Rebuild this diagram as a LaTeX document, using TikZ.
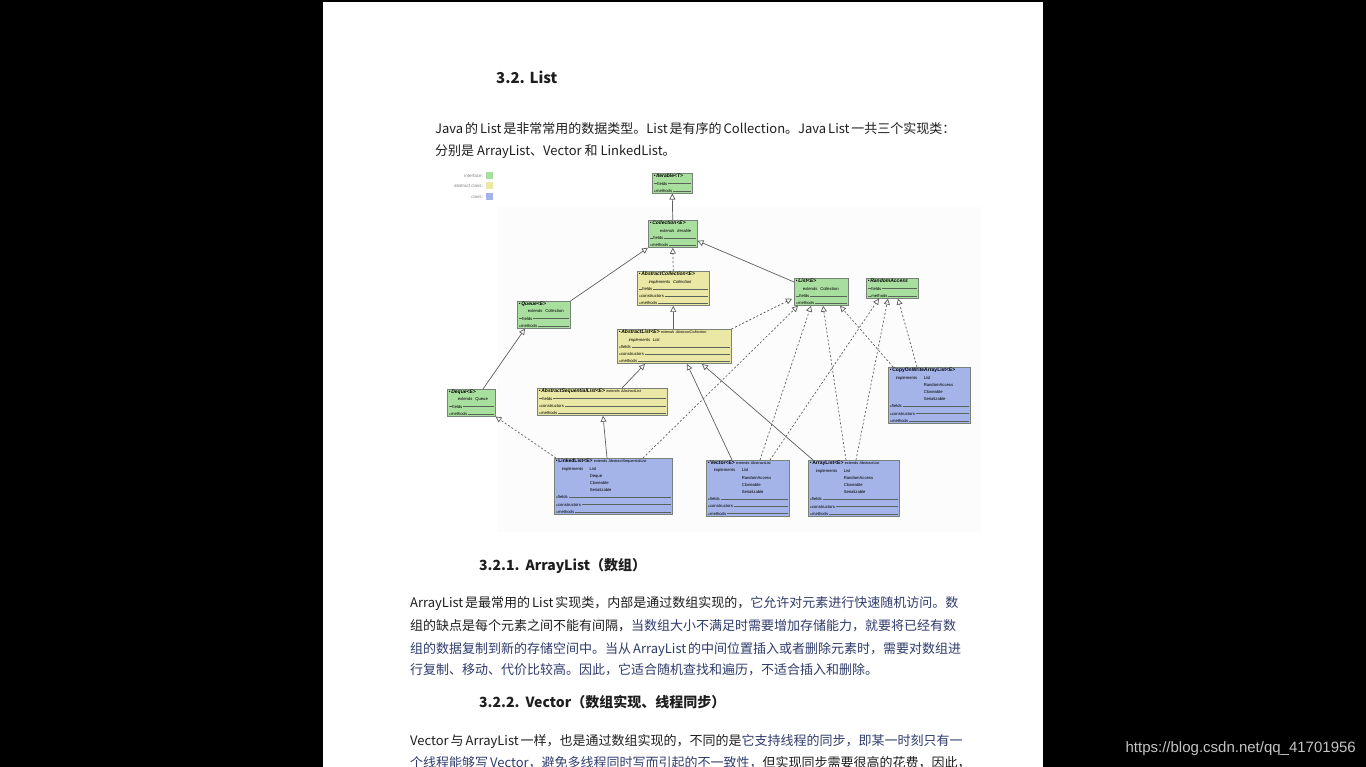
\documentclass[tikz,border=0pt]{standalone}
\usepackage{fontspec}
\usepackage{amssymb}
\setmainfont{Noto Sans CJK SC}
\newfontfamily\umlfont{Liberation Sans}
\usetikzlibrary{arrows.meta, positioning}
\XeTeXlinebreaklocale "zh"
\XeTeXlinebreakskip=0pt plus 1.5pt minus 0.6pt

\definecolor{ifacegreen}{RGB}{168,222,158}
\definecolor{absyellow}{RGB}{234,232,164}
\definecolor{clsblue}{RGB}{164,180,232}
\definecolor{umlborder}{RGB}{120,130,120}
\definecolor{umlrule}{RGB}{90,100,90}
\definecolor{umledge}{RGB}{95,95,95}
\definecolor{bodyblack}{RGB}{30,30,30}
\definecolor{textnavy}{RGB}{48,60,108}
\definecolor{wmgray}{RGB}{195,195,195}

% uml compartments
\newcommand\umlname[1]{{\fontsize{5}{7.2}\selectfont\textbullet\,\textbf{\textit{#1}}}}
\newcommand\clsname[1]{{\fontsize{5}{7.2}\selectfont\textbullet\,\textbf{#1}}}
\newcommand\umlline{{\color{umlrule}\leaders\hrule height 1.75pt depth -1.5pt\hskip 0pt plus 1fill}\null}
\newcommand\umlrow[1]{{\color{umlrule}\rule[1.5pt]{3pt}{0.25pt}}\,#1\,\umlline}
\newcommand\umlrowp[1]{$\scriptscriptstyle\boxplus$#1\,\umlline}
\newcommand\impl[1]{\hspace*{6pt}\makebox[28pt][l]{implements}#1}
\newcommand\implmore[1]{\hspace*{34pt}#1}

\begin{document}
\begin{tikzpicture}[x=1pt, y=-1pt,
  umlbox/.style={draw=umlborder, line width=0.5pt, anchor=north west, inner xsep=1.5pt, inner ysep=1pt, align=left, font=\umlfont\fontsize{4.2}{7.2}\selectfont},
  iface/.style={umlbox, fill=ifacegreen},
  abscls/.style={umlbox, fill=absyellow},
  cls/.style={umlbox, fill=clsblue},
  gen/.style={draw=umledge, line width=0.7pt, -{Triangle[length=6pt, width=6pt, fill=white]}},
  realize/.style={gen, dash pattern=on 2pt off 2pt},
  bodytxt/.style={anchor=base west, inner sep=0pt, font=\fontsize{13}{16}\selectfont, text=bodyblack},
  headtxt/.style={anchor=base west, inner sep=0pt, font=\bfseries\fontsize{14}{16}\selectfont, text=bodyblack},
  legtxt/.style={anchor=east, inner sep=0pt, font=\umlfont\fontsize{4.5}{5}\selectfont, text=gray},
  legsq/.style={minimum size=7pt, inner sep=0pt, anchor=west}]

\useasboundingbox (0,0) rectangle (1366,767);
\fill[black] (0,0) rectangle (1366,767);
\fill[white] (323,2) rectangle (1043,767);
\fill[gray!2] (497,207) rectangle (981,532);

% page text
\node[headtxt, font=\bfseries\fontsize{15}{17}\selectfont] (h32) at (496,84) {3.2. List};
\node[bodytxt] (intro1) at (435,134) {\makebox[513pt][s]{Java 的 List 是非常常用的数据类型。List 是有序的 Collection。Java List 一共三个实现类：}};
\node[bodytxt] (intro2) at (435,156) {分别是 ArrayList、Vector 和 LinkedList。};

% legend
\node[legtxt] (legi) at (483,176) {interface:};
\node[legsq, fill=ifacegreen, right=3pt of legi] (legisq) {};
\node[legtxt] (lega) at (483,186) {abstract class:};
\node[legsq, fill=absyellow, right=3pt of lega] (legasq) {};
\node[legtxt] (legc) at (483,197) {class:};
\node[legsq, fill=clsblue, right=3pt of legc] (legcsq) {};

% interfaces
\node[iface, text width=37] (iter) at (652,173) {\umlname{Iterable<T>}\\ \umlrow{fields}\\ \umlrowp{methods}};
\node[iface, text width=46] (coll) at (648,220) {\umlname{Collection<E>}\\ \hspace*{10pt}\textit{extends\ \ Iterable}\\ \umlrow{fields}\\ \umlrowp{methods}};
\node[iface, text width=51] (list) at (794,278) {\umlname{List<E>}\\ \hspace*{7pt}extends\ \ Collection\\ \umlrow{fields}\\ \umlrowp{methods}};
\node[iface, text width=49] (randacc) at (866,278) {\umlname{RandomAccess}\\ \umlrow{fields}\\ \umlrow{methods}};
\node[iface, text width=50] (queue) at (517,301) {\umlname{Queue<E>}\\ \hspace*{9pt}extends\ \ Collection\\ \umlrow{fields}\\ \umlrowp{methods}};
\node[iface, text width=45] (deque) at (447,389) {\umlname{Deque<E>}\\ \hspace*{9pt}extends\ \ Queue\\ \umlrow{fields}\\ \umlrowp{methods}};

% abstract classes
\node[abscls, text width=69] (abscoll) at (637,271) {\umlname{AbstractCollection<E>}\\ \hspace*{10pt}\textit{implements\ \ Collection}\\ \umlrow{fields}\\ \umlrowp{constructors}\\ \umlrowp{methods}};
\node[abscls, text width=111] (abslist) at (617,329) {\umlname{AbstractList<E>}\ {\fontsize{3.8}{7.2}\selectfont\textit{extends AbstractCollection}}\\ \hspace*{10pt}\textit{implements\ \ List}\\ \umlrowp{fields}\\ \umlrowp{constructors}\\ \umlrowp{methods}};
\node[abscls, text width=127] (absseq) at (537,388) {\umlname{AbstractSequentialList<E>}\ {\fontsize{3.8}{7.2}\selectfont\textit{extends AbstractList}}\\ \umlrow{fields}\\ \umlrowp{constructors}\\ \umlrowp{methods}};

% classes
\node[cls, text width=79] (cow) at (888,367) {\clsname{CopyOnWriteArrayList<E>}\\ \impl{List}\\ \implmore{RandomAccess}\\ \implmore{Cloneable}\\ \implmore{Serializable}\\ \umlrowp{fields}\\ \umlrowp{constructors}\\ \umlrowp{methods}};
\node[cls, text width=115] (linked) at (554,458) {\clsname{LinkedList<E>}\ {\fontsize{3.8}{7.2}\selectfont extends AbstractSequentialList}\\ \impl{List}\\ \implmore{Deque}\\ \implmore{Cloneable}\\ \implmore{Serializable}\\ \umlrowp{fields}\\ \umlrowp{constructors}\\ \umlrowp{methods}};
\node[cls, text width=80] (vector) at (706,460) {\clsname{Vector<E>}\ {\fontsize{3.8}{7.2}\selectfont extends AbstractList}\\ \impl{List}\\ \implmore{RandomAccess}\\ \implmore{Cloneable}\\ \implmore{Serializable}\\ \umlrowp{fields}\\ \umlrowp{constructors}\\ \umlrowp{methods}};
\node[cls, text width=88] (arraylist) at (808,460) {\clsname{ArrayList<E>}\ {\fontsize{3.8}{7.2}\selectfont extends AbstractList}\\ \impl{List}\\ \implmore{RandomAccess}\\ \implmore{Cloneable}\\ \implmore{Serializable}\\ \umlrowp{fields}\\ \umlrowp{constructors}\\ \umlrowp{methods}};

% extends
\draw[gen] (coll.north) -- (iter.south);
\draw[gen] (queue.north east) -- (coll.south west);
\draw[gen] ([yshift=-4pt]list.north west) -- ([yshift=7pt]coll.south east);
\draw[gen] ([xshift=36pt]deque.north west) -- ([xshift=8pt]queue.south west);
\draw[gen] (abslist.north -| abscoll.south) -- (abscoll.south);
\draw[gen] ([xshift=85pt]absseq.north west) -- ([xshift=28pt]abslist.south west);
\draw[gen] ([xshift=53pt]linked.north west) -- ([xshift=66pt]absseq.south west);
\draw[gen] ([xshift=26pt]vector.north west) -- ([xshift=70pt]abslist.south west);
\draw[gen] ([xshift=5pt]arraylist.north west) -- ([xshift=85pt]abslist.south west);

% implements
\draw[realize] (abscoll.north) -- (coll.south);
\draw[realize] (abslist.north east) -- ([shift={(-2pt,7pt)}]list.south west);
\draw[realize] ([xshift=2pt]linked.north west) -- (deque.south east);
\draw[realize] ([xshift=89pt]linked.north west) -- ([xshift=4pt]list.south west);
\draw[realize] ([xshift=54pt]vector.north west) -- ([xshift=17pt]list.south west);
\draw[realize] ([xshift=64pt]vector.north west) -- ([xshift=13pt]randacc.south west);
\draw[realize] ([xshift=38pt]arraylist.north west) -- ([xshift=29pt]list.south west);
\draw[realize] ([xshift=48pt]arraylist.north west) -- ([xshift=22pt]randacc.south west);
\draw[realize] ([xshift=5pt]cow.north west) -- ([xshift=46pt]list.south west);
\draw[realize] ([xshift=29pt]cow.north west) -- ([xshift=32pt]randacc.south west);

% section 3.2.1
\node[headtxt] (h321) at (479,570) {3.2.1.\hspace{6pt}ArrayList（数组）};
\node[bodytxt] (al1) at (410,607) {\makebox[548pt][s]{ArrayList 是最常用的 List 实现类，内部是通过数组实现的，\textcolor{textnavy}{它允许对元素进行快速随机访问。数}}};
\node[bodytxt] (al2) at (410,630) {\makebox[548pt][s]{组的缺点是每个元素之间不能有间隔，\textcolor{textnavy}{当数组大小不满足时需要增加存储能力，就要将已经有数}}};
\node[bodytxt, text=textnavy] (al3) at (410,653) {\makebox[548pt][s]{组的数据复制到新的存储空间中。当从 ArrayList 的中间位置插入或者删除元素时，需要对数组进}};
\node[bodytxt, text=textnavy] (al4) at (410,674) {行复制、移动、代价比较高。因此，它适合随机查找和遍历，不适合插入和删除。};

% section 3.2.2
\node[headtxt] (h322) at (479,707) {3.2.2.\hspace{6pt}Vector（数组实现、线程同步）};
\node[bodytxt] (vc1) at (410,745) {\makebox[548pt][s]{Vector 与 ArrayList 一样，也是通过数组实现的，不同的是\textcolor{textnavy}{它支持线程的同步，即某一时刻只有一}}};
\node[bodytxt] (vc2) at (410,767) {\makebox[550pt][s]{\textcolor{textnavy}{个线程能够写 Vector，避免多线程同时写而引起的不一致性，}但实现同步需要很高的花费，因此，}};

% watermark
\node[anchor=base east, inner sep=0pt, font=\umlfont\fontsize{15}{17}\selectfont, text=wmgray] (wm) at (1356,752) {https://blog.csdn.net/qq\_41701956};
\end{tikzpicture}
\end{document}
